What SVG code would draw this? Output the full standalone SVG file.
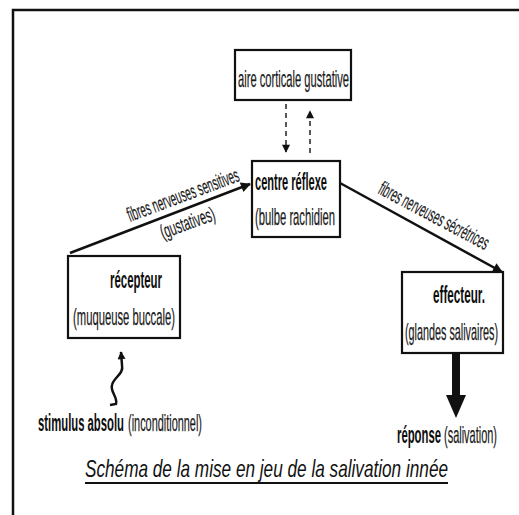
<svg xmlns="http://www.w3.org/2000/svg" width="519" height="515" viewBox="0 0 519 515">
<style>
.box{fill:#fff;stroke:#111;stroke-width:2.2}
.t{font-family:"Liberation Sans",Arial,sans-serif;font-size:24px;fill:#1a1a1a;stroke:#1a1a1a;stroke-width:0.25}
.b{font-weight:bold;fill:#0d0d0d;stroke:none}
.lbl{font-family:"Liberation Sans",Arial,sans-serif;font-size:20px;fill:#1a1a1a;stroke:#1a1a1a;stroke-width:0.2}
.line{stroke:#111;stroke-width:2.5;fill:none}
.dash{stroke:#222;stroke-width:1.5;fill:none;stroke-dasharray:5 4}
</style>
<defs>
<marker id="ah" viewBox="0 0 10 10" refX="9" refY="5" markerWidth="12" markerHeight="10" markerUnits="userSpaceOnUse" orient="auto">
<path d="M0,0 L10,5 L0,10 Z" fill="#111"/>
</marker>
<marker id="ahs" viewBox="0 0 10 10" refX="9" refY="5" markerWidth="9" markerHeight="8" markerUnits="userSpaceOnUse" orient="auto">
<path d="M0,0 L10,5 L0,10 Z" fill="#111"/>
</marker>
</defs>
<rect width="519" height="515" fill="#fff"/>
<path d="M13 515 V10 H519" fill="none" stroke="#111" stroke-width="2.5"/>

<g id="connectors">
<line class="line" x1="70" y1="253" x2="250" y2="184" marker-end="url(#ah)"/>
<line class="line" x1="340" y1="183" x2="502" y2="272" marker-end="url(#ah)"/>
<line class="dash" x1="286" y1="104" x2="286" y2="152" marker-end="url(#ahs)"/>
<line class="dash" x1="310" y1="153" x2="310" y2="111" marker-end="url(#ahs)"/>
<path d="M110 405 L116 404 C118 397 110 392 112 385 C114 377 124 374 122 365 L121 352" fill="none" stroke="#111" stroke-width="2.5" marker-end="url(#ahs)"/>
<path d="M452 353 H460 V395 H466 L456 418 L446 395 H452 Z" fill="#111"/>
<text class="lbl" transform="translate(130,222) rotate(-20.5)" textLength="118" lengthAdjust="spacingAndGlyphs">fibres nerveuses sensitives</text>
<text class="lbl" transform="translate(163,239) rotate(-20)" textLength="57" lengthAdjust="spacingAndGlyphs">(gustatives)</text>
<text class="lbl" transform="translate(377,193) rotate(28)" textLength="122" lengthAdjust="spacingAndGlyphs">fibres nerveuses sécrétrices</text>
</g>

<g id="aire">
<rect class="box" x="235" y="50" width="116" height="50"/>
<text class="t" x="238" y="87" textLength="111" lengthAdjust="spacingAndGlyphs">aire corticale gustative</text>
</g>
<g id="centre">
<rect class="box" x="252" y="161" width="88" height="76"/>
<text class="t b" x="255" y="190" textLength="72" lengthAdjust="spacingAndGlyphs">centre réflexe</text>
<text class="t" x="255" y="225" textLength="80" lengthAdjust="spacingAndGlyphs">(bulbe rachidien</text>
</g>
<g id="recepteur">
<rect class="box" x="68" y="256" width="112" height="82"/>
<text class="t b" x="110" y="288" textLength="52" lengthAdjust="spacingAndGlyphs">récepteur</text>
<text class="t" x="73" y="325" textLength="102" lengthAdjust="spacingAndGlyphs">(muqueuse buccale)</text>
</g>
<g id="effecteur">
<rect class="box" x="402" y="272" width="101" height="81"/>
<text class="t b" x="433" y="303" textLength="52" lengthAdjust="spacingAndGlyphs">effecteur.</text>
<text class="t" x="405" y="340" textLength="93" lengthAdjust="spacingAndGlyphs">(glandes salivaires)</text>
</g>
<g id="stimulus">
<text class="t b" x="38" y="431" textLength="86" lengthAdjust="spacingAndGlyphs">stimulus absolu</text>
<text class="t" x="128" y="431" textLength="74" lengthAdjust="spacingAndGlyphs">(inconditionnel)</text>
</g>
<g id="reponse">
<text class="t b" x="397" y="443" textLength="44" lengthAdjust="spacingAndGlyphs">réponse</text>
<text class="t" x="444" y="443" textLength="53" lengthAdjust="spacingAndGlyphs">(salivation)</text>
</g>
<g id="caption">
<text x="85" y="477" font-family="'Liberation Sans',Arial,sans-serif" font-size="24" font-style="italic" fill="#111" textLength="363" lengthAdjust="spacingAndGlyphs">Schéma de la mise en jeu de la salivation  innée</text>
<line x1="85" y1="483" x2="448" y2="483" stroke="#111" stroke-width="2"/>
</g>
</svg>
